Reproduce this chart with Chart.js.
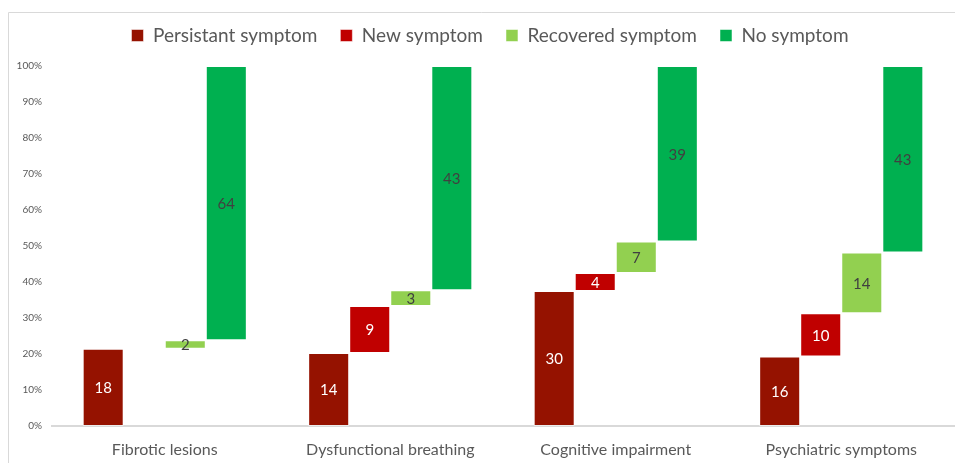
<!DOCTYPE html>
<html>
<head>
<meta charset="utf-8">
<script src="https://cdn.jsdelivr.net/npm/chart.js@4"></script>
<style>
  html, body { margin: 0; padding: 0; background: #fff; }
  #wrap { width: 955px; height: 463px; }
</style>
</head>
<body>
<div id="wrap"><canvas id="myChart" width="955" height="463"></canvas></div>
<script>
const categories = ["Fibrotic lesions", "Dysfunctional breathing", "Cognitive impairment", "Psychiatric symptoms"];
const persistent = [18, 14, 30, 16];
const newSymptom = [0, 9, 4, 10];
const recovered = [2, 3, 7, 14];
const noSymptom = [64, 43, 39, 43];
const yTicks = [0, 10, 20, 30, 40, 50, 60, 70, 80, 90, 100];

// waterfall: each step floats on top of the previous one, as % of the group total
const series = [persistent, newSymptom, recovered, noSymptom];
const ranges = series.map(() => []);
categories.forEach((c, i) => {
	const total = series.reduce((s, arr) => s + arr[i], 0);
	let run = 0;
	series.forEach((arr, k) => {
		const lo = run / total * 100;
		run += arr[i];
		const hi = run / total * 100;
		ranges[k].push(arr[i] ? [lo, hi] : null);
	});
});

const names = ["Persistant symptom", "New symptom", "Recovered symptom", "No symptom"];
const colors = ["#951200", "#C00000", "#92D050", "#00B050"];
const labelColors = ["#ffffff", "#ffffff", "#404040", "#404040"];

const valueLabels = {
	id: "valueLabels",
	afterDatasetsDraw(chart) {
		const ctx = chart.ctx;
		ctx.save();
		ctx.font = "15px Lato";
		ctx.textAlign = "center";
		ctx.textBaseline = "middle";
		chart.data.datasets.forEach((ds, k) => {
			chart.getDatasetMeta(k).data.forEach((bar, i) => {
				if (!ds.data[i]) return;
				const p = bar.getProps(["x", "y", "base"], true);
				ctx.fillStyle = labelColors[k];
				ctx.fillText(series[k][i], p.x, (p.y + p.base) / 2 + 1);
			});
		});
		ctx.restore();
	}
};

const frame = {
	id: "frame",
	beforeInit(chart) {
		// extra room under the legend
		const fit = chart.legend.fit;
		chart.legend.fit = function () {
			fit.call(this);
			this.height += 11;
		};
	},
	afterLayout(chart) {
		// legend sits a little right of centre in the original
		chart.legend.left += 9;
		chart.legend.right += 9;
	},
	beforeDraw(chart) {
		const ctx = chart.ctx;
		ctx.save();
		ctx.strokeStyle = "#D9D9D9";
		ctx.lineWidth = 1;
		ctx.beginPath();
		ctx.moveTo(8.5, 463);
		ctx.lineTo(8.5, 12.5);
		ctx.lineTo(955, 12.5);
		ctx.stroke();
		ctx.restore();
	}
};

new Chart(document.getElementById("myChart"), {
	type: "bar",
	data: {
		labels: categories,
		datasets: ranges.map((d, k) => ({
			label: names[k],
			data: d,
			backgroundColor: colors[k],
			borderColor: "rgba(255,255,255,0.5)",
			borderWidth: 1,
			borderSkipped: false,
			categoryPercentage: 0.728,
			barPercentage: 1.0
		}))
	},
	options: {
		responsive: false,
		animation: false,
		layout: { padding: { top: 3, left: 8, right: 1, bottom: 0 } },
		plugins: {
			tooltip: { enabled: false },
			legend: {
				position: "top",
				labels: {
					boxWidth: 12,
					boxHeight: 12,
					padding: 23,
					color: "#595959",
					font: { family: "Lato", size: 19 }
				}
			}
		},
		scales: {
			x: {
				grid: { display: false },
				border: { color: "#D9D9D9", width: 2 },
				afterFit(scale) { scale.height = 37; },
				ticks: { color: "#595959", font: { family: "Lato", size: 16 }, padding: 6 }
			},
			y: {
				min: 0,
				max: 100,
				afterBuildTicks(scale) { scale.ticks = yTicks.map(v => ({ value: v })); },
				afterFit(scale) { scale.width = 44; },
				grid: { display: false, drawTicks: false },
				border: { display: false },
				ticks: {
					color: "#595959",
					font: { family: "Lato", size: 10 },
					padding: 10,
					callback: v => v + "%"
				}
			}
		}
	},
	plugins: [valueLabels, frame]
});
</script>
</body>
</html>
